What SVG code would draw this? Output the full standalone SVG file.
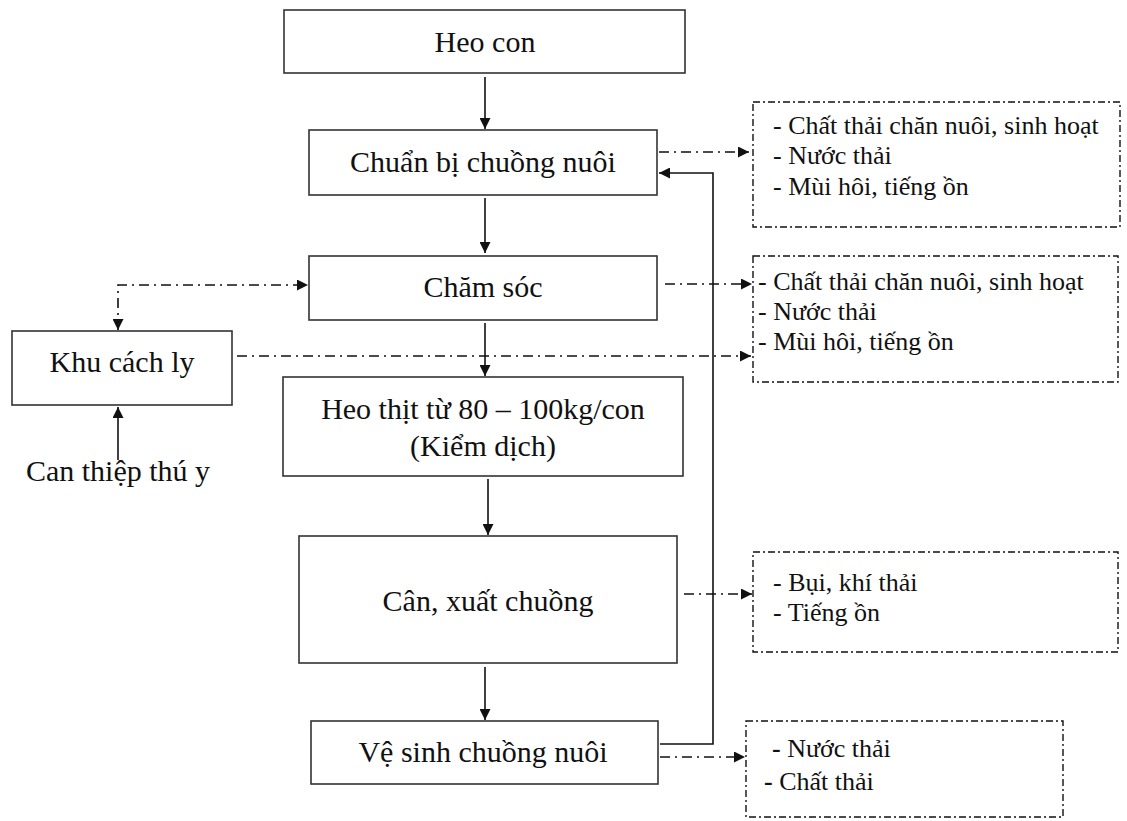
<svg xmlns="http://www.w3.org/2000/svg" width="1127" height="821" viewBox="0 0 1127 821">
<style>
.box{fill:#fff;stroke:#333;stroke-width:1.6}
.dbox{fill:none;stroke:#111;stroke-width:1.4;stroke-dasharray:7 3 2 3}
.t{font-family:"Liberation Serif","Times New Roman",serif;font-size:30px;fill:#111}
.s{font-family:"Liberation Serif","Times New Roman",serif;font-size:26px;fill:#111}
.solid{fill:none;stroke:#111;stroke-width:1.6}
.dash{fill:none;stroke:#111;stroke-width:1.6;stroke-dasharray:10 5 2 5}
</style>
<defs>
<marker id="ah" viewBox="0 0 10 10" refX="10" refY="5" markerWidth="11" markerHeight="11" markerUnits="userSpaceOnUse" orient="auto-start-reverse">
<path d="M0,0 L10,5 L0,10 Z" fill="#111"/>
</marker>
</defs>
<g id="connectors">
<line class="solid" x1="485" y1="77" x2="485" y2="129" marker-end="url(#ah)"/>
<line class="solid" x1="485" y1="198" x2="485" y2="253" marker-end="url(#ah)"/>
<line class="solid" x1="485" y1="323" x2="485" y2="376" marker-end="url(#ah)"/>
<line class="solid" x1="488" y1="479" x2="488" y2="535" marker-end="url(#ah)"/>
<line class="solid" x1="485" y1="667" x2="485" y2="720" marker-end="url(#ah)"/>
<polyline class="solid" points="660,744 713,744 713,173 659,173" marker-end="url(#ah)"/>
<line class="solid" x1="118" y1="460" x2="118" y2="407" marker-end="url(#ah)"/>
<line class="dash" x1="659" y1="152" x2="749" y2="152" marker-end="url(#ah)"/>
<line class="dash" x1="665" y1="284" x2="752" y2="284" marker-end="url(#ah)"/>
<line class="dash" x1="237" y1="356" x2="751" y2="356" marker-end="url(#ah)"/>
<polyline class="dash" points="118,330 118,285 308,285" marker-start="url(#ah)" marker-end="url(#ah)"/>
<line class="dash" x1="684" y1="594" x2="752" y2="594" marker-end="url(#ah)"/>
<line class="dash" x1="660" y1="757" x2="745" y2="757" marker-end="url(#ah)"/>
</g>
<g id="heo-con">
<rect class="box" x="284" y="10" width="401" height="63"/>
<text class="t" x="485" y="52" text-anchor="middle">Heo con</text>
</g>
<g id="chuan-bi">
<rect class="box" x="309" y="130" width="348" height="65"/>
<text class="t" x="483" y="172" text-anchor="middle">Chuẩn bị chuồng nuôi</text>
</g>
<g id="cham-soc">
<rect class="box" x="309" y="256" width="348" height="64"/>
<text class="t" x="483" y="297" text-anchor="middle">Chăm sóc</text>
</g>
<g id="khu-cach-ly">
<rect class="box" x="12" y="331" width="220" height="74"/>
<text class="t" x="122" y="372" text-anchor="middle">Khu cách ly</text>
</g>
<g id="can-thiep">
<text class="t" x="118" y="481" text-anchor="middle">Can thiệp thú y</text>
</g>
<g id="heo-thit">
<rect class="box" x="283" y="377" width="400" height="99"/>
<text class="t" x="483" y="419" text-anchor="middle">Heo thịt từ 80 – 100kg/con</text>
<text class="t" x="483" y="456" text-anchor="middle">(Kiểm dịch)</text>
</g>
<g id="can-xuat">
<rect class="box" x="299" y="536" width="378" height="127"/>
<text class="t" x="488" y="611" text-anchor="middle">Cân, xuất chuồng</text>
</g>
<g id="ve-sinh">
<rect class="box" x="311" y="721" width="347" height="63"/>
<text class="t" x="483" y="762" text-anchor="middle">Vệ sinh chuồng nuôi</text>
</g>
<g id="waste-1">
<rect class="dbox" x="753" y="102" width="367" height="125"/>
<text class="s" x="773" y="134">- Chất thải chăn nuôi, sinh hoạt</text>
<text class="s" x="773" y="164">- Nước thải</text>
<text class="s" x="773" y="195">- Mùi hôi, tiếng ồn</text>
</g>
<g id="waste-2">
<rect class="dbox" x="753" y="256" width="365" height="126"/>
<text class="s" x="758" y="290">- Chất thải chăn nuôi, sinh hoạt</text>
<text class="s" x="758" y="320">- Nước thải</text>
<text class="s" x="758" y="350">- Mùi hôi, tiếng ồn</text>
</g>
<g id="waste-3">
<rect class="dbox" x="753" y="552" width="365" height="100"/>
<text class="s" x="773" y="591">- Bụi, khí thải</text>
<text class="s" x="773" y="621">- Tiếng ồn</text>
</g>
<g id="waste-4">
<rect class="dbox" x="746" y="721" width="317" height="96"/>
<text class="s" x="772" y="757"><tspan font-weight="bold">-</tspan> Nước thải</text>
<text class="s" x="764" y="790"><tspan font-weight="bold">-</tspan> Chất thải</text>
</g>
</svg>
